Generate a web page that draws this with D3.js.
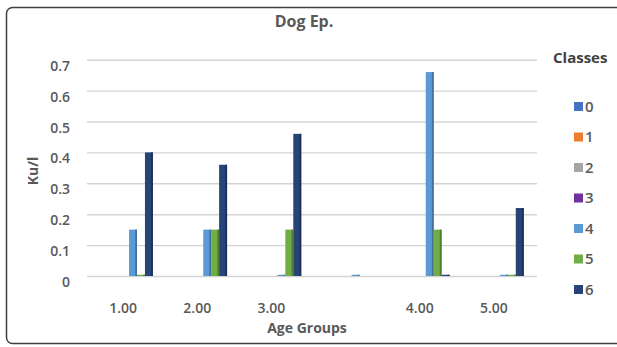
<!DOCTYPE html>
<html><head><meta charset="utf-8">
<script src="https://cdn.jsdelivr.net/npm/d3@7"></script>
<style>
body{margin:0;background:#fff;}
text{font-family:"Open Sans",sans-serif;fill:#595959;}
</style></head>
<body><svg id="c" width="617" height="347"></svg>
<script>
const categories = ["1.00","2.00","3.00","","4.00","5.00"];
const classes = ["0","1","2","3","4","5","6"];
const classColors = ["#4472C4","#ED7D31","#A5A5A5","#7030A0","#5B9BD5","#70AD47","#264478"];
// values per class, one entry per age-group category
const class0 = [0,0,0,0,0,0];
const class1 = [0,0,0,0,0,0];
const class2 = [0,0,0,0,0,0];
const class3 = [0,0,0,0,0,0];
const class4 = [0.15,0.15,0.004,0.004,0.66,0.004];
const class5 = [0.004,0.15,0.15,0,0.15,0.004];
const class6 = [0.40,0.36,0.46,0,0.004,0.22];
const seriesValues = [class0,class1,class2,class3,class4,class5,class6];
const yTicks = [0,0.1,0.2,0.3,0.4,0.5,0.6,0.7];
const yTickLabels = ["0","0.1","0.2","0.3","0.4","0.5","0.6","0.7"];

const svg = d3.select("#c");
// frame
svg.append("rect").attr("x",6.5).attr("y",7.5).attr("width",660).attr("height",336)
  .attr("rx",6).attr("fill","#fff").attr("stroke","#404040").attr("stroke-width",1.5);

const x0 = d3.scaleBand().domain(categories).range([88,533]).paddingInner(0.25).paddingOuter(0.125);
const x1 = d3.scaleBand().domain(classes).range([0,x0.bandwidth()]);
const y = d3.scaleLinear().domain([0,0.7]).range([276,59.7]);

// gridlines + y labels
const yAxis = d3.axisLeft(y).tickValues(yTicks).tickSize(450).tickPadding(17)
  .tickFormat((d,i)=>yTickLabels[i]);
const ga = svg.append("g").attr("transform","translate(537,0)").call(yAxis);
ga.select(".domain").remove();
ga.selectAll(".tick line").attr("stroke","#d4d4d4").attr("stroke-width",1.4);
ga.selectAll(".tick text").attr("dy","0.75em").style("font-size","14px").style("font-weight","600").attr("fill","#595959");

// x labels
const xa = svg.append("g").attr("transform","translate(0,276)").call(d3.axisBottom(x0).tickSize(0).tickPadding(27));
xa.select(".domain").remove();
xa.selectAll(".tick text").attr("dx","-2").style("font-size","14px").style("font-weight","600").attr("fill","#595959");

// bars
const g = svg.append("g");
categories.forEach((c,ci)=>{
  classes.forEach((k,ki)=>{
    const v = seriesValues[ki][ci];
    if(v<=0) return;
    const bx = x0(c)+x1(k), bw = x1.bandwidth();
    const top = y(v), h = y(0)-y(v);
    g.append("rect").attr("x",bx).attr("y",top).attr("width",bw).attr("height",h)
      .attr("fill",classColors[ki]);
    g.append("rect").attr("x",bx+bw-1.8).attr("y",top).attr("width",1.8).attr("height",h)
      .attr("fill",d3.color(classColors[ki]).darker(0.9));
  });
});

// titles
svg.append("text").attr("x",304).attr("y",27).attr("text-anchor","middle")
  .style("font-size","16px").style("font-weight","700").text("Dog Ep.");
svg.append("text").attr("x",307).attr("y",333).attr("text-anchor","middle")
  .style("font-size","14px").style("font-weight","700").text("Age Groups");
svg.append("text").attr("transform","translate(38,171) rotate(-90)").attr("text-anchor","middle")
  .style("font-size","14px").style("font-weight","700").text("Ku/l");

// legend
svg.append("text").attr("x",553).attr("y",63).style("font-size","15px").style("font-weight","700")
  .style("fill","#404040").text("Classes");
const lg = svg.append("g");
classes.forEach((k,i)=>{
  const cy = 106.5 + i*30.5;
  lg.append("rect").attr("x",574).attr("y",cy-4.5).attr("width",9).attr("height",9).attr("fill",classColors[i]);
  lg.append("text").attr("x",585).attr("y",cy).attr("dy","0.36em").style("font-size","15px").style("font-weight","600").text(k);
});
</script></body></html>
